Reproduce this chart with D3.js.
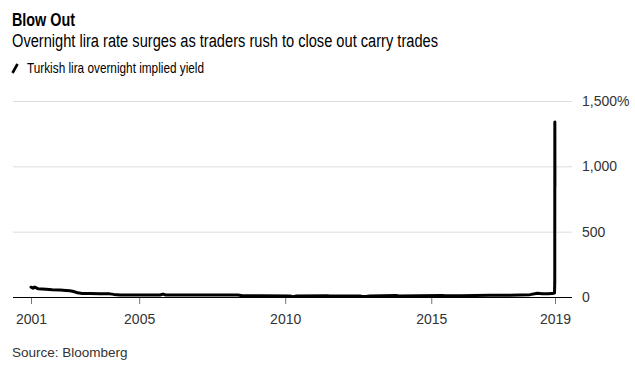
<!DOCTYPE html>
<html>
<head>
<meta charset="utf-8">
<script src="https://cdn.jsdelivr.net/npm/d3@7"></script>
<style>
  html, body { margin: 0; padding: 0; background: #fff; }
  svg { display: block; }
  .title { font-family: "Liberation Sans Narrow", "Arial Narrow", "Liberation Sans", sans-serif; font-weight: bold; font-size: 18.5px; fill: #000; }
  .subtitle { font-family: "Liberation Sans Narrow", "Arial Narrow", "Liberation Sans", sans-serif; font-size: 18px; fill: #000; }
  .legend { font-family: "Liberation Sans Narrow", "Arial Narrow", "Liberation Sans", sans-serif; font-size: 15px; fill: #000; }
  .tick text { font-family: "Liberation Sans", Arial, sans-serif; font-size: 14px; fill: #333; }
  .source { font-family: "Liberation Sans", Arial, sans-serif; font-size: 13.5px; fill: #333; }
</style>
</head>
<body>
<svg id="chart" width="635" height="378"></svg>
<script>
// ---- data ----
const dates = [
  "2001-04-20","2001-05-15","2001-06-05","2001-07-15","2001-09-05","2001-10-25",
  "2002-01-10","2002-04-20","2002-07-01","2002-08-20","2002-10-05","2002-11-25",
  "2003-01-20","2003-04-25","2003-08-30","2003-12-31","2004-02-20","2004-05-10",
  "2005-01-10","2005-09-20","2005-10-25","2005-11-30","2007-02-01","2007-10-10",
  "2008-05-20","2008-07-15","2009-02-20","2010-03-01","2010-04-10","2010-05-20",
  "2011-06-10","2011-07-10","2012-07-25","2012-08-20","2012-10-10","2012-11-20",
  "2013-10-20","2013-11-20","2014-08-15","2015-05-15","2015-06-20","2016-01-01",
  "2017-01-01","2017-09-10","2018-05-20","2018-08-20","2018-10-20","2019-01-01",
  "2019-02-20","2019-03-22","2019-03-25","2019-03-26","2019-03-27","2019-03-28"
];
const yieldValues = [
  75, 68, 76, 64, 62, 60,
  56, 53, 50, 48, 42, 32,
  27, 26, 25, 24, 20, 16,
  15, 15, 22, 15, 16, 16,
  16, 10, 9, 7, 3, 7,
  10, 7, 8, 3, 4, 8,
  11, 8, 9, 12, 9, 10,
  13, 14, 18, 28, 25, 24,
  26, 30, 110, 1340, 850, 850
];
const yTicks = [0, 500, 1000, 1500];
const yTickLabels = ["0", "500", "1,000", "1,500%"];
const xTickDates = ["2001-04-20", "2005-01-01", "2010-01-01", "2015-01-01", "2019-03-28"];
const xTickLabels = ["2001", "2005", "2010", "2015", "2019"];

const titleText = "Blow Out";
const subtitleText = "Overnight lira rate surges as traders rush to close out carry trades";
const legendText = "Turkish lira overnight implied yield";
const sourceText = "Source: Bloomberg";

// ---- drawing ----
const parse = d3.timeParse("%Y-%m-%d");
const data = dates.map((d, i) => ({ date: parse(d), value: yieldValues[i] }));

const svg = d3.select("#chart");
const plotLeft = 13, plotRight = 572, dataLeft = 31, dataRight = 555;
const yTop = 101, yBottom = 297;

const x = d3.scaleTime()
  .domain([parse(dates[0]), parse(dates[dates.length - 1])])
  .range([dataLeft, dataRight]);
const y = d3.scaleLinear().domain([0, 1500]).range([yBottom, yTop]);

// titles (condensed face approximated by compressing to the reference widths)
svg.append("text").attr("class", "title").attr("x", 12).attr("y", 26)
  .attr("textLength", 63).attr("lengthAdjust", "spacingAndGlyphs").text(titleText);
svg.append("text").attr("class", "subtitle").attr("x", 12).attr("y", 47)
  .attr("textLength", 426).attr("lengthAdjust", "spacingAndGlyphs").text(subtitleText);
svg.append("line").attr("x1", 12.5).attr("y1", 73).attr("x2", 17.5).attr("y2", 64)
  .attr("stroke", "#000").attr("stroke-width", 2.6).attr("stroke-linecap", "butt");
svg.append("text").attr("class", "legend").attr("x", 27).attr("y", 72.5)
  .attr("textLength", 177).attr("lengthAdjust", "spacingAndGlyphs").text(legendText);

// y gridlines + labels
const yAxis = d3.axisRight(y)
  .tickValues(yTicks)
  .tickSize(plotRight - plotLeft)
  .tickPadding(10)
  .tickFormat((d, i) => yTickLabels[i]);
const gy = svg.append("g").attr("transform", `translate(${plotLeft},0)`).call(yAxis);
gy.select(".domain").remove();
gy.selectAll(".tick line").attr("stroke", "#dcdcdc").attr("stroke-width", 1);
gy.selectAll(".tick text").attr("text-anchor", "start");
gy.selectAll(".tick").filter(d => d === 0).select("line").remove();

// x axis
const xAxis = d3.axisBottom(x)
  .tickValues(xTickDates.map(parse))
  .tickSize(7)
  .tickPadding(5)
  .tickFormat((d, i) => xTickLabels[i]);
const gx = svg.append("g").attr("transform", `translate(0,${yBottom})`).call(xAxis);
gx.select(".domain").remove();
gx.selectAll(".tick line").attr("stroke", "#777");
gx.selectAll(".tick text").attr("dy", "1.05em");

// baseline
svg.append("line").attr("x1", plotLeft).attr("x2", plotRight)
  .attr("y1", y(0) + 0.5).attr("y2", y(0) + 0.5)
  .attr("stroke", "#000").attr("stroke-width", 1);

// series line
const line = d3.line().x(d => x(d.date)).y(d => y(d.value));
svg.append("path").datum(data)
  .attr("fill", "none").attr("stroke", "#000").attr("stroke-width", 3)
  .attr("stroke-linejoin", "round").attr("stroke-linecap", "round")
  .attr("d", line);

// source
svg.append("text").attr("class", "source").attr("x", 12).attr("y", 357).text(sourceText);
</script>
</body>
</html>
